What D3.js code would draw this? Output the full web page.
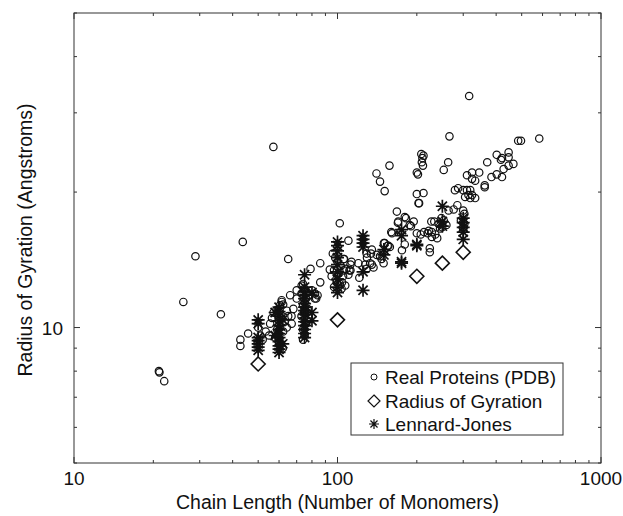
<!DOCTYPE html>
<html>
<head>
<meta charset="utf-8">
<script src="https://cdn.jsdelivr.net/npm/d3@7"></script>
<style>
  body { margin: 0; background: #fff; }
  text { font-family: 'Liberation Sans', Arial, sans-serif; fill: #111; }
</style>
</head>
<body>
<div id="chart"></div>
<script>
// Real proteins from the PDB: [chain length, radius of gyration]
const pdb = [
  [21.0, 8.0], [21.1, 7.95], [22.0, 7.6], [26.0, 11.4], [28.9, 14.4], [36.1, 10.7],
  [42.8, 9.4], [42.8, 9.1], [43.7, 15.5], [45.8, 9.7], [57.1, 25.2], [65.0, 14.2],
  [50, 10.0], [51, 9.6], [52, 9.4], [53.4, 9.8], [55.5, 10.2], [56.4, 10.5], [57.2, 10.8],
  [55, 9.6], [58, 9.5], [60, 9.2], [62, 9.0], [59, 9.9], [60.5, 11.2], [61.4, 11.4],
  [62.2, 9.8], [63, 10.3], [64.2, 10.9], [65, 10.6], [66.9, 10.6], [64.2, 10.0],
  [66.1, 11.8], [68, 11.0], [70, 12.1], [70, 11.6], [67, 10.2], [61.4, 11.5], [62.2, 11.25],
  [74, 12.5], [75, 12.2], [73, 11.9], [76, 11.6], [74, 11.2], [75, 10.9], [73, 10.6],
  [76, 10.2], [74, 9.9], [75, 9.6], [74, 9.4], [77, 11.0], [78, 10.5], [73.1, 12.4],
  [79, 13.5], [86, 13.9], [86, 12.6], [80, 12.1], [82, 11.6], [82.2, 11.9], [84, 11.8],
  [83, 11.6], [93.5, 13.45],
  [96, 14.6], [98, 14.3], [100, 14.0], [103, 13.7], [97, 13.4], [101, 13.2], [105, 13.0],
  [99, 12.8], [104, 12.6], [107, 12.4], [97, 12.3], [102, 12.5], [108, 13.5], [106, 14.2],
  [95, 13.0], [110, 13.1], [99.3, 12.6], [103.6, 12.2], [102, 17.05], [110, 15.6],
  [113, 14.0], [120, 13.9], [111, 13.4], [121, 12.9], [129, 13.5], [133, 13.9], [137, 13.6],
  [141, 14.5], [145, 14.4], [151, 15.4], [156, 15.2], [147, 14.2], [135, 14.9], [129, 14.6],
  [105.6, 14.2], [112, 13.8], [105.6, 13.4], [112, 13.4], [129.4, 14.3], [135, 13.8],
  [127.5, 13.8], [155, 15.2], [150, 15.4], [158, 15.1], [134, 14.6], [149.6, 13.9],
  [140.6, 22.0], [145, 21.1], [151, 20.1], [157.5, 22.9], [202, 21.9], [212, 19.9],
  [204, 18.9], [168, 18.1], [182, 17.5], [194.6, 17.2], [190, 16.8], [169.5, 17.1],
  [161, 16.2], [173, 16.3], [175.6, 14.85], [180, 15.3], [200, 16.2], [224, 15.0], [224, 14.7],
  [242, 17.0], [253, 17.3], [249.5, 16.7], [235, 16.1], [228, 15.9], [222, 16.4], [213, 16.3],
  [207, 16.1], [239, 15.8], [228, 16.3], [188, 16.9], [220, 16.2], [227, 17.2], [233, 17.2],
  [248, 17.5], [259, 16.9], [245, 16.6], [160, 16.3], [170, 17.2], [180, 17.6], [203, 18.9],
  [200, 19.8],
  [264, 18.2], [285, 18.7], [276, 18.3], [303, 17.9], [294, 17.3], [300, 18.2], [303, 17.0],
  [300, 16.5],
  [279, 20.2], [287, 20.4], [300, 20.2], [310, 20.2], [319, 20.2], [324, 19.7], [305, 19.5],
  [314, 19.7], [333, 19.4], [319, 19.4], [310, 21.8], [324, 22.1], [324, 21.4], [333, 21.2],
  [345, 22.1], [362, 20.7], [362, 20.5],
  [370, 23.3], [402, 24.2], [421, 23.8], [446, 24.5], [446, 23.9], [465, 23.1], [446, 22.9],
  [427, 22.5], [421, 21.6], [402, 21.9], [384, 21.6], [417, 23.6],
  [208, 24.3], [212, 24.1], [210, 23.8], [209, 23.3], [211, 22.9], [200, 22.1], [263, 23.3],
  [253, 22.4], [316, 32.7], [266, 26.6], [485, 26.0], [497, 26.0], [583, 26.3]
];

// Radius of gyration model
const gyration = [[50, 8.3], [100, 10.4], [200, 13.0], [250, 13.9], [300, 14.7]];

// Lennard-Jones model
const lennardJones = [
  [50, 10.4], [50, 10.2], [50, 9.5], [50, 9.35], [50, 9.2], [50, 9.05], [50, 8.9],
  [60, 11.1], [60, 10.85], [60, 10.6], [60, 10.35], [60, 10.1], [60, 9.9], [60, 9.7],
  [60, 9.5], [60, 9.3], [60, 9.1], [60, 8.95], [60, 8.8], [58, 10.8], [62, 10.4],
  [58, 9.6], [62, 9.2],
  [75, 13.1], [75, 12.3], [75, 12.0], [75, 11.8], [75, 11.6], [75, 11.3], [75, 11.1],
  [75, 10.9], [75, 10.7], [75, 10.5], [75, 10.3], [75, 10.1], [75, 9.9], [75, 9.7], [75, 9.5],
  [80, 11.96], [80, 10.8], [80, 10.35],
  [100, 15.5], [100, 15.2], [100, 14.8], [100, 14.3], [100, 13.8], [100, 13.3], [100, 12.8],
  [100, 12.3], [100, 11.96],
  [125, 16.0], [125, 15.7], [125, 15.4], [125, 15.1], [125, 13.3], [125, 12.1],
  [150, 14.9], [150, 14.5],
  [175, 16.5], [175, 16.0], [175, 14.0], [175, 13.9],
  [200, 15.3], [200, 15.2],
  [250, 18.6], [250, 17.2], [250, 16.8],
  [300, 17.5], [300, 17.1], [300, 16.7], [300, 16.3], [300, 15.7]
];

const xTicks = [10, 100, 1000];
const yTicks = [10];
const legendLabels = ['Real Proteins (PDB)', 'Radius of Gyration', 'Lennard-Jones'];

const width = 623, height = 516;
const margin = { top: 13, right: 22, bottom: 53, left: 74 };

const svg = d3.select('#chart')
  .append('svg')
  .attr('width', width)
  .attr('height', height);

const x = d3.scaleLog().domain([10, 1000]).range([margin.left, width - margin.right]);
const y = d3.scaleLog().domain([5, 50]).range([height - margin.bottom, margin.top]);

const x0 = x.range()[0], x1 = x.range()[1];
const y0 = y.range()[0], y1 = y.range()[1];

// minor + major ticks (log)
const xMinor = x.ticks().filter((v) => !xTicks.includes(v));
const yMinor = y.ticks().filter((v) => !yTicks.includes(v));

const axisColor = '#333';
const g = svg.append('g');

// Box
g.append('rect')
  .attr('x', x0).attr('y', y1)
  .attr('width', x1 - x0).attr('height', y0 - y1)
  .attr('fill', 'none').attr('stroke', axisColor).attr('stroke-width', 1);

// Tick marks on all four sides, pointing inward
function xTickMarks(vals, len) {
  vals.forEach((v) => {
    g.append('line').attr('x1', x(v)).attr('x2', x(v)).attr('y1', y0).attr('y2', y0 - len)
      .attr('stroke', axisColor);
    g.append('line').attr('x1', x(v)).attr('x2', x(v)).attr('y1', y1).attr('y2', y1 + len)
      .attr('stroke', axisColor);
  });
}
function yTickMarks(vals, len) {
  vals.forEach((v) => {
    g.append('line').attr('y1', y(v)).attr('y2', y(v)).attr('x1', x0).attr('x2', x0 + len)
      .attr('stroke', axisColor);
    g.append('line').attr('y1', y(v)).attr('y2', y(v)).attr('x1', x1).attr('x2', x1 - len)
      .attr('stroke', axisColor);
  });
}
xTickMarks(xMinor, 3);
xTickMarks(xTicks, 6);
yTickMarks(yMinor, 3);
yTickMarks(yTicks, 6);

// Tick labels
svg.selectAll('.xlab')
  .data(xTicks)
  .enter()
  .append('text')
  .attr('x', (d) => x(d))
  .attr('y', y0 + 22)
  .attr('text-anchor', 'middle')
  .style('font-size', '19px')
  .text((d) => d);

svg.selectAll('.ylab')
  .data(yTicks)
  .enter()
  .append('text')
  .attr('x', x0 - 11)
  .attr('y', (d) => y(d) + 7)
  .attr('text-anchor', 'end')
  .style('font-size', '19px')
  .text((d) => d);

// Axis titles
svg.append('text')
  .attr('x', (x0 + x1) / 2)
  .attr('y', 509)
  .attr('text-anchor', 'middle')
  .style('font-size', '19.5px')
  .text('Chain Length (Number of Monomers)');

svg.append('text')
  .attr('transform', 'translate(32,' + 240 + ') rotate(-90)')
  .attr('text-anchor', 'middle')
  .style('font-size', '19.5px')
  .text('Radius of Gyration (Angstroms)');

// Marker shapes
const starPath = (r) => {
  const d = r * Math.SQRT1_2;
  return 'M' + -r + ',0L' + r + ',0M0,' + -r + 'L0,' + r +
    'M' + -d + ',' + -d + 'L' + d + ',' + d + 'M' + -d + ',' + d + 'L' + d + ',' + -d;
};
const diamondPath = (r) => 'M0,' + -r + 'L' + r + ',0L0,' + r + 'L' + -r + ',0Z';

// PDB circles
svg.append('g')
  .selectAll('circle')
  .data(pdb)
  .enter()
  .append('circle')
  .attr('cx', (d) => x(d[0]))
  .attr('cy', (d) => y(d[1]))
  .attr('r', 3.7)
  .attr('fill', 'none')
  .attr('stroke', '#111')
  .attr('stroke-width', 1.2);

// Radius of gyration diamonds
svg.append('g')
  .selectAll('path')
  .data(gyration)
  .enter()
  .append('path')
  .attr('transform', (d) => 'translate(' + x(d[0]) + ',' + y(d[1]) + ')')
  .attr('d', diamondPath(7))
  .attr('fill', 'none')
  .attr('stroke', '#111')
  .attr('stroke-width', 1.6);

// Lennard-Jones stars
svg.append('g')
  .selectAll('path')
  .data(lennardJones)
  .enter()
  .append('path')
  .attr('transform', (d) => 'translate(' + x(d[0]) + ',' + y(d[1]) + ')')
  .attr('d', starPath(6.5))
  .attr('fill', 'none')
  .attr('stroke', '#111')
  .attr('stroke-width', 1.7);

// Legend
const legend = svg.append('g');
legend.append('rect')
  .attr('x', 351).attr('y', 363)
  .attr('width', 212).attr('height', 72)
  .attr('fill', '#fff')
  .attr('stroke', axisColor);

const rowY = [377, 401, 424];
legend.append('circle').attr('cx', 374).attr('cy', rowY[0]).attr('r', 3)
  .attr('fill', 'none').attr('stroke', '#111').attr('stroke-width', 1);
legend.append('path').attr('transform', 'translate(374,' + rowY[1] + ')')
  .attr('d', diamondPath(6)).attr('fill', 'none').attr('stroke', '#111').attr('stroke-width', 1.2);
legend.append('path').attr('transform', 'translate(374,' + rowY[2] + ')')
  .attr('d', starPath(5)).attr('fill', 'none').attr('stroke', '#111').attr('stroke-width', 1.2);

legend.selectAll('.lt')
  .data(legendLabels)
  .enter()
  .append('text')
  .attr('x', 385)
  .attr('y', (d, i) => rowY[i] + 7)
  .style('font-size', '19px')
  .text((d) => d);
</script>
</body>
</html>
